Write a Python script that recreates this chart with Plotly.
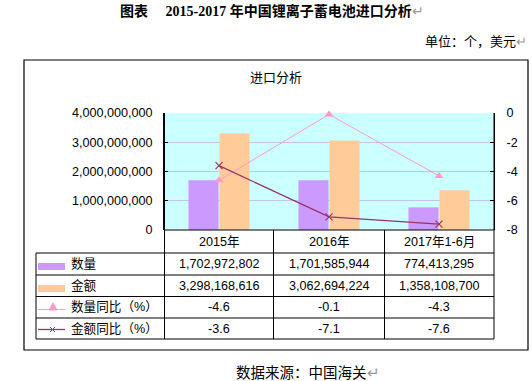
import plotly.graph_objects as go

categories = ["2015年", "2016年", "2017年1-6月"]
quantity = [1702972802, 1701585944, 774413295]
amount = [3298168616, 3062694224, 1358108700]
quantity_yoy = [-4.6, -0.1, -4.3]
amount_yoy = [-3.6, -7.1, -7.6]
series_names = ["数量", "金额", "数量同比（%）", "金额同比（%）"]
left_ticks = [0, 1000000000, 2000000000, 3000000000, 4000000000]
right_ticks = [-8, -6, -4, -2, 0]

PURPLE = "#CC99FF"
ORANGE = "#FFCC99"
PINK = "#FF99CC"
MAROON = "#993366"
GRID = "#C4C4F4"
BG = "#CCFFFF"

W, H = 532, 381
L, R, T, B = 164, 494, 113, 230


def px(x):
    return (x - L) / (R - L)


def py(y):
    return (B - y) / (B - T)


fig = go.Figure()
fig.add_trace(go.Bar(x=categories, y=quantity, name=series_names[0],
                     marker=dict(color=PURPLE, line=dict(width=0))))
fig.add_trace(go.Bar(x=categories, y=amount, name=series_names[1],
                     marker=dict(color=ORANGE, line=dict(width=0))))
fig.add_trace(go.Scatter(x=categories, y=quantity_yoy, name=series_names[2], yaxis="y2",
                         mode="lines+markers", line=dict(color=PINK, width=1),
                         cliponaxis=False,
                         marker=dict(symbol="triangle-up", size=8, color=PINK)))
fig.add_trace(go.Scatter(x=categories, y=amount_yoy, name=series_names[3], yaxis="y2",
                         mode="lines+markers", line=dict(color=MAROON, width=1.3),
                         cliponaxis=False,
                         marker=dict(symbol="x-thin", size=7,
                                     line=dict(color=MAROON, width=1.2))))

num_font = dict(family="Liberation Sans, Arial, sans-serif", size=12.6, color="black")
cjk_font = dict(family="Liberation Sans, Noto Sans CJK SC, sans-serif", size=12.6, color="black")

shapes = []
# outer frame
shapes.append(dict(type="rect", xref="paper", yref="paper",
                   x0=px(24), x1=px(528), y0=py(350), y1=py(60),
                   line=dict(color="black", width=1.2)))
# table lines
row_lines = [253, 275, 296.5, 318, 339]
col_lines = [36, 164.5, 273.5, 384.5, 494]
for i, yl in enumerate(row_lines):
    shapes.append(dict(type="line", xref="paper", yref="paper",
                       x0=px(36), x1=px(494), y0=py(yl), y1=py(yl),
                       line=dict(color="black", width=1)))
shapes.append(dict(type="line", xref="paper", yref="paper",
                   x0=px(164.5), x1=px(494), y0=py(230), y1=py(230),
                   line=dict(color="black", width=1)))
for j, xl in enumerate(col_lines):
    top = 253 if j == 0 else 230
    if j == 1:
        top = 113
    shapes.append(dict(type="line", xref="paper", yref="paper",
                       x0=px(xl), x1=px(xl), y0=py(top), y1=py(339),
                       line=dict(color="black", width=1)))
shapes.append(dict(type="line", xref="paper", yref="paper",
                   x0=px(494), x1=px(494), y0=py(113), y1=py(230),
                   line=dict(color="black", width=1)))
# legend swatches
shapes.append(dict(type="rect", xref="paper", yref="paper",
                   x0=px(38), x1=px(65), y0=py(270), y1=py(263),
                   fillcolor=PURPLE, line=dict(width=0)))
shapes.append(dict(type="rect", xref="paper", yref="paper",
                   x0=px(38), x1=px(65), y0=py(292), y1=py(285),
                   fillcolor=ORANGE, line=dict(width=0)))
shapes.append(dict(type="line", xref="paper", yref="paper",
                   x0=px(38), x1=px(65), y0=py(309.5), y1=py(309.5),
                   line=dict(color=PINK, width=1)))
shapes.append(dict(type="path", xref="paper", yref="paper",
                   path=f"M {px(49)} {py(310)} L {px(57)} {py(310)} L {px(53)} {py(303)} Z",
                   fillcolor=PINK, line=dict(color=PINK, width=1)))
shapes.append(dict(type="line", xref="paper", yref="paper",
                   x0=px(38), x1=px(65), y0=py(329.5), y1=py(329.5),
                   line=dict(color=MAROON, width=1.3)))
shapes.append(dict(type="line", xref="paper", yref="paper",
                   x0=px(50), x1=px(55), y0=py(327), y1=py(332),
                   line=dict(color=MAROON, width=1)))
shapes.append(dict(type="line", xref="paper", yref="paper",
                   x0=px(50), x1=px(55), y0=py(332), y1=py(327),
                   line=dict(color=MAROON, width=1)))

annotations = []
# main title
annotations.append(dict(xref="paper", yref="paper", x=px(272), y=py(11),
                        text="<b>图表　 2015-2017 年中国锂离子蓄电池进口分析</b><span style='color:#999999'>↵</span>",
                        showarrow=False, xanchor="center", yanchor="middle",
                        font=dict(family="Liberation Serif, Noto Sans CJK SC, serif", size=14, color="black")))
annotations.append(dict(xref="paper", yref="paper", x=px(529), y=py(40),
                        text="单位：个，美元<span style='color:#999999'>↵</span>",
                        showarrow=False, xanchor="right", yanchor="middle",
                        font=dict(family="Noto Sans CJK SC, sans-serif", size=13, color="black")))
annotations.append(dict(xref="paper", yref="paper", x=px(276), y=py(76),
                        text="进口分析", showarrow=False, xanchor="center", yanchor="middle",
                        font=dict(family="Noto Sans CJK SC, sans-serif", size=13, color="black")))
annotations.append(dict(xref="paper", yref="paper", x=px(308), y=py(371),
                        text="数据来源：中国海关<span style='color:#999999'>↵</span>",
                        showarrow=False, xanchor="center", yanchor="middle",
                        font=dict(family="Noto Sans CJK SC, sans-serif", size=14.5, color="black")))

header_y = 241.5
row_y = [264, 285.5, 307, 328.5]
for c in categories:
    annotations.append(dict(xref="x", yref="paper", x=c, y=py(header_y), text=c,
                            showarrow=False, xanchor="center", yanchor="middle", font=cjk_font))
rows = [
    [f"{v:,}" for v in quantity],
    [f"{v:,}" for v in amount],
    [f"{v}" for v in quantity_yoy],
    [f"{v}" for v in amount_yoy],
]
for r, vals in enumerate(rows):
    annotations.append(dict(xref="paper", yref="paper", x=px(69), y=py(row_y[r]),
                            text=series_names[r], showarrow=False, xanchor="left",
                            yanchor="middle", font=cjk_font))
    for c, v in zip(categories, vals):
        annotations.append(dict(xref="x", yref="paper", x=c, y=py(row_y[r]), text=v,
                                showarrow=False, xanchor="center", yanchor="middle",
                                font=num_font))

fig.update_layout(
    width=W, height=H,
    margin=dict(l=L, r=W - R, t=T, b=H - B, pad=0),
    paper_bgcolor="white", plot_bgcolor=BG,
    barmode="group", bargap=0.436, bargroupgap=0.03,
    showlegend=False,
    xaxis=dict(type="category", range=[-0.5, 2.5], showticklabels=False,
               showgrid=False, zeroline=False, showline=False, ticks=""),
    yaxis=dict(range=[0, 4000000000], tickvals=left_ticks, tickformat=",d",
               showgrid=True, gridcolor=GRID, gridwidth=1, zeroline=False,
               showline=True, linecolor="black", linewidth=1,
               ticks="inside", ticklen=4, tickcolor="black",
               ticklabelstandoff=8, tickfont=num_font),
    yaxis2=dict(range=[-8, 0], tickvals=right_ticks,
                ticktext=[str(v) for v in right_ticks],
                overlaying="y", side="right",
                showgrid=False, zeroline=False, showline=True, linecolor="black",
                linewidth=1, ticks="inside", ticklen=4, tickcolor="black",
                ticklabelstandoff=9, tickfont=num_font),
    shapes=shapes, annotations=annotations,
)

fig.write_html("out.html", config={"displayModeBar": False},
               post_script="document.body.style.margin='0';document.body.style.padding='0';")
